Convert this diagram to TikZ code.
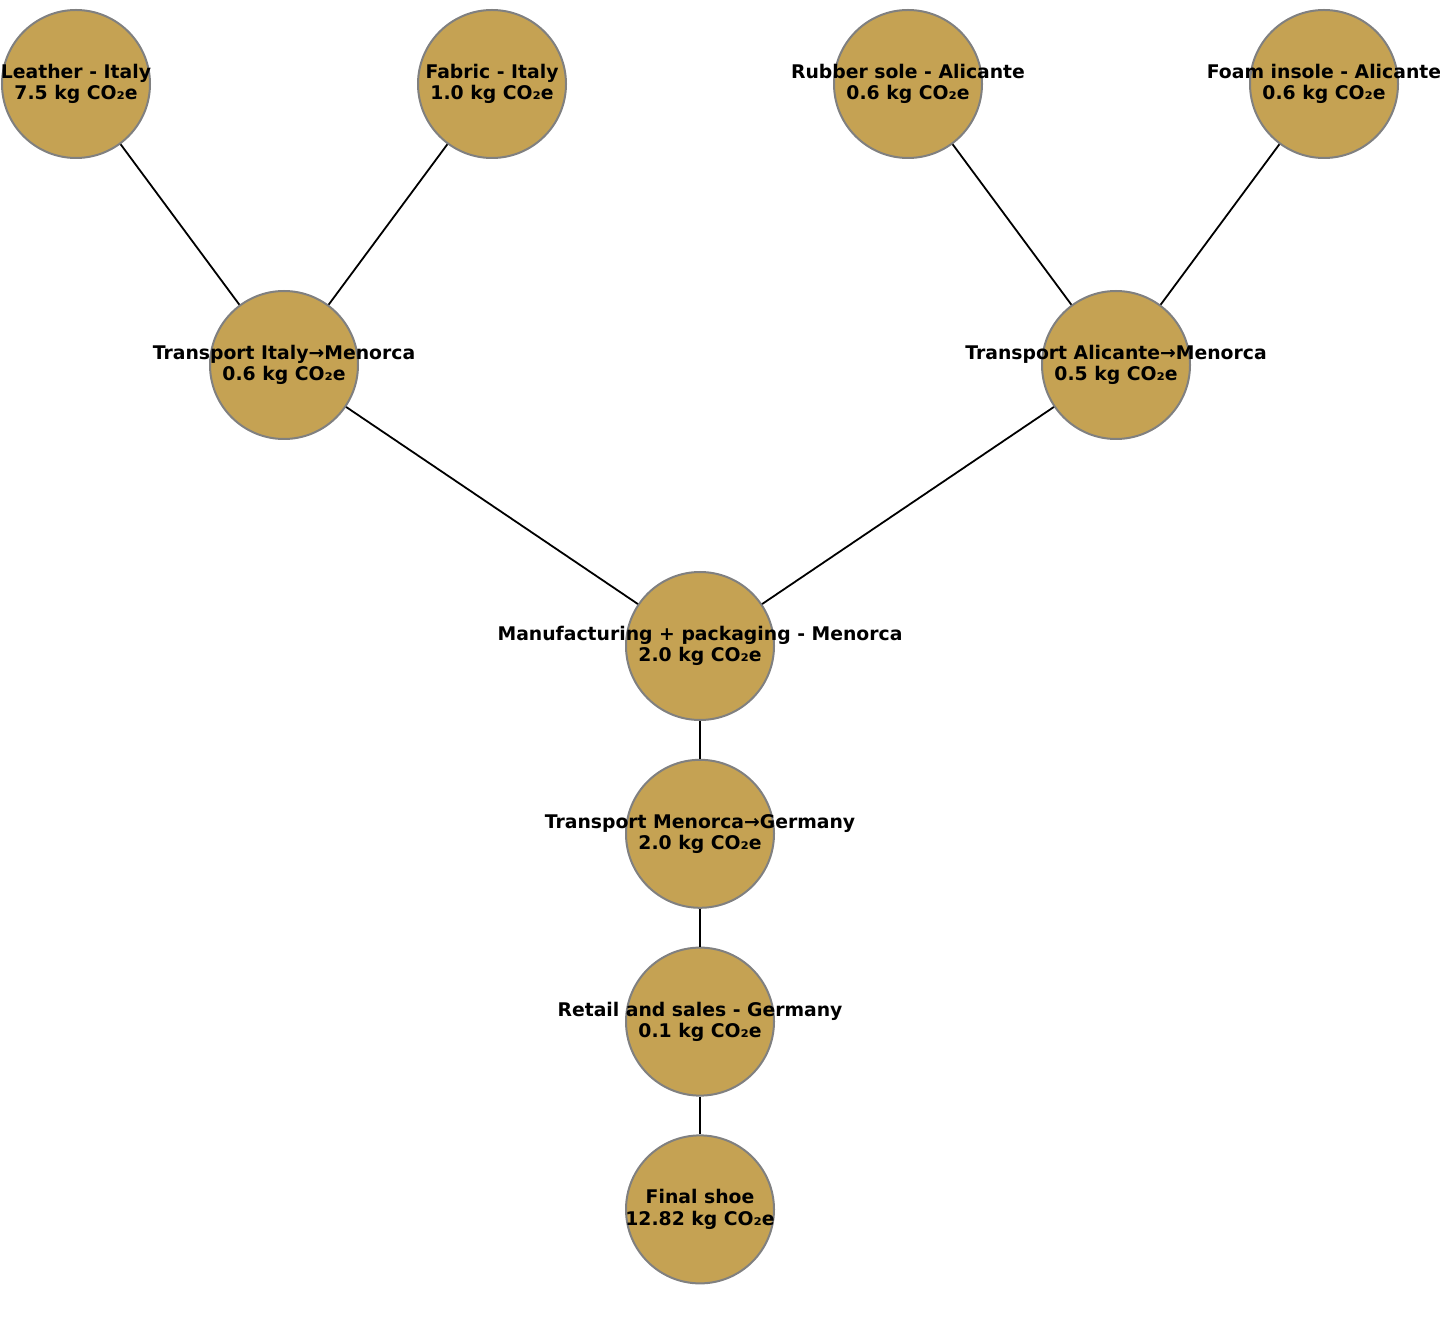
\documentclass[tikz,border=0pt]{standalone}
\usepackage{fontspec}
\setmainfont{DejaVu Sans}
\usepackage{tikz}
\usetikzlibrary{positioning}

\definecolor{stagefill}{HTML}{C5A253}
\definecolor{stageline}{HTML}{808080}

\begin{document}
\begin{tikzpicture}[
    x=0.5pt, y=-0.5pt,
    node distance=18.9pt,
    stage/.style={circle, draw=stageline, fill=stagefill, line width=1pt,
                  minimum size=74pt, inner sep=0pt},
    txt/.style={align=center, font=\fontsize{9.4}{10.7}\selectfont\bfseries},
    link/.style={line width=0.9pt, black}
]
\useasboundingbox (0,0) rectangle (1440,1331);
% raw materials
\node[stage] (leather) at (76,84) {};
\node[stage] (fabric) at (492,84) {};
\node[stage] (rubber) at (908,84) {};
\node[stage] (foam) at (1324,84) {};
% transport to Menorca
\node[stage] (trita) at (284,365) {};
\node[stage] (trali) at (1116,365) {};
% main chain
\node[stage] (manuf) at (700,646) {};
\node[stage, below=of manuf] (trger) {};
\node[stage, below=of trger] (retail) {};
\node[stage, below=of retail] (final) {};
\draw[link] (leather) -- (trita);
\draw[link] (fabric) -- (trita);
\draw[link] (rubber) -- (trali);
\draw[link] (foam) -- (trali);
\draw[link] (trita) -- (manuf);
\draw[link] (trali) -- (manuf);
\draw[link] (manuf) -- (trger);
\draw[link] (trger) -- (retail);
\draw[link] (retail) -- (final);
% labels
\node[txt] (tleather) at (leather) {Leather - Italy\\7.5 kg CO₂e};
\node[txt] (tfabric) at (fabric) {Fabric - Italy\\1.0 kg CO₂e};
\node[txt] (trubber) at (rubber) {Rubber sole - Alicante\\0.6 kg CO₂e};
\node[txt] (tfoam) at (foam) {Foam insole - Alicante\\0.6 kg CO₂e};
\node[txt] (ttrita) at (trita) {Transport Italy→Menorca\\0.6 kg CO₂e};
\node[txt] (ttrali) at (trali) {Transport Alicante→Menorca\\0.5 kg CO₂e};
\node[txt] (tmanuf) at (manuf) {Manufacturing + packaging - Menorca\\2.0 kg CO₂e};
\node[txt] (ttrger) at (trger) {Transport Menorca→Germany\\2.0 kg CO₂e};
\node[txt] (tretail) at (retail) {Retail and sales - Germany\\0.1 kg CO₂e};
\node[txt] (tfinal) at (final) {Final shoe\\12.82 kg CO₂e};
\end{tikzpicture}
\end{document}
